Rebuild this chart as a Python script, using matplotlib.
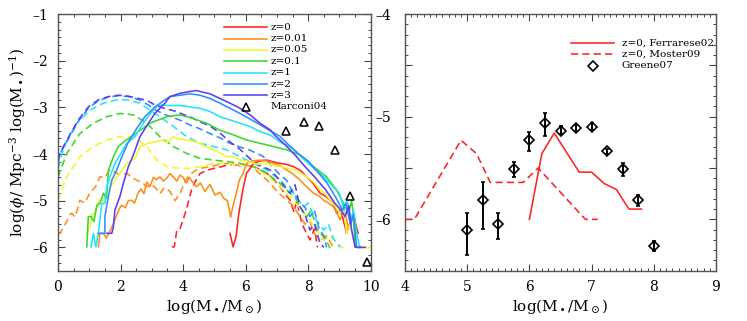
import matplotlib
matplotlib.use("Agg")
import matplotlib.pyplot as plt
from matplotlib.ticker import MultipleLocator, FuncFormatter

plt.rcParams['font.family'] = ['DejaVu Serif']
plt.rcParams['mathtext.fontset'] = 'dejavuserif'

# ---------------- data: left panel (solid = one model, dashed = other) -------------
labels = ["z=0", "z=0.01", "z=0.05", "z=0.1", "z=1", "z=2", "z=3"]
colors = ["#ff2222", "#ff8c1a", "#f5f52a", "#3ad928", "#1fe3ff", "#2f8cff", "#5a3ff0"]

z0_sol_x = [5.5, 5.6, 5.7, 5.77, 5.85, 5.93, 6.03, 6.15, 6.25, 6.45, 6.67, 6.9, 7.1, 7.3, 7.53, 7.75, 7.95, 8.15, 8.38, 8.55, 8.7, 8.8, 8.91, 9.0, 9.1, 9.23, 9.35, 9.45, 9.52, 9.6]
z0_sol_y = [-5.70, -5.99, -5.75, -5.34, -5.0, -4.7, -4.41, -4.3, -4.2, -4.15, -4.13, -4.17, -4.2, -4.22, -4.27, -4.35, -4.49, -4.62, -4.84, -4.9, -4.99, -5.05, -5.27, -5.2, -5.35, -5.7, -5.45, -5.27, -5.5, -5.7]

z001_sol_x = [1.29, 1.34, 1.45, 1.55, 1.66, 1.77, 1.88, 1.98, 2.04, 2.15, 2.25, 2.36, 2.45, 2.55, 2.65, 2.75, 2.84, 2.94, 3.05, 3.15, 3.26, 3.37, 3.47, 3.58, 3.69, 3.8, 3.9, 4.0, 4.1, 4.2, 4.3, 4.43, 4.55, 4.7, 4.86, 5.02, 5.18, 5.3, 5.42, 5.52, 5.6, 5.7, 5.8, 5.9, 6.03, 6.2, 6.46, 6.7, 6.89, 7.1, 7.31, 7.5, 7.74, 7.95, 8.17, 8.35, 8.49, 8.65, 8.81, 8.95, 9.02, 9.15, 9.3, 9.45, 9.55]
z001_sol_y = [-5.99, -5.7, -5.7, -5.8, -5.65, -5.5, -5.3, -5.15, -5.1, -5.15, -5.0, -4.99, -5.05, -4.85, -4.75, -4.85, -4.6, -4.7, -4.5, -4.55, -4.49, -4.58, -4.52, -4.42, -4.49, -4.58, -4.45, -4.5, -4.62, -4.5, -4.6, -4.7, -4.62, -4.8, -4.65, -4.88, -4.82, -4.95, -5.0, -5.35, -5.1, -4.85, -4.55, -4.45, -4.2, -4.15, -4.13, -4.15, -4.2, -4.25, -4.34, -4.42, -4.56, -4.7, -4.84, -4.9, -4.99, -5.05, -5.13, -5.3, -5.41, -5.2, -5.6, -5.34, -5.7]

z005_sol_x = [0.92, 1.02, 1.1, 1.2, 1.3, 1.45, 1.61, 1.82, 2.04, 2.2, 2.46, 2.62, 2.89, 3.1, 3.31, 3.5, 3.69, 3.9, 4.12, 4.3, 4.54, 4.75, 4.97, 5.2, 5.39, 5.6, 5.82, 6.03, 6.25, 6.46, 6.67, 6.9, 7.1, 7.3, 7.53, 7.75, 7.95, 8.17, 8.38, 8.55, 8.7, 8.85, 9.02, 9.12, 9.23, 9.35, 9.5, 10.0]
z005_sol_y = [-5.70, -5.56, -5.3, -5.25, -5.0, -5.0, -4.77, -4.56, -4.35, -4.2, -4.1, -3.84, -3.77, -3.74, -3.7, -3.75, -3.63, -3.68, -3.7, -3.72, -3.77, -3.85, -3.91, -3.98, -4.06, -4.05, -4.13, -4.15, -4.2, -4.22, -4.2, -4.25, -4.27, -4.3, -4.34, -4.4, -4.49, -4.6, -4.77, -4.85, -4.99, -5.1, -5.27, -5.1, -5.7, -5.5, -6.0, -6.0]

z01_sol_x = [0.92, 0.97, 1.06, 1.15, 1.24, 1.34, 1.45, 1.55, 1.61, 1.77, 1.93, 2.14, 2.41, 2.94, 3.48, 3.9, 4.33, 4.75, 5.18, 5.61, 6.03, 6.46, 6.89, 7.31, 7.74, 8.17, 8.59, 8.91, 9.13, 9.29, 9.39, 9.45, 9.5, 9.6]
z01_sol_y = [-5.99, -5.34, -5.34, -5.45, -5.10, -5.06, -4.84, -4.95, -4.35, -4.06, -3.84, -3.72, -3.6, -3.34, -3.2, -3.16, -3.24, -3.34, -3.49, -3.59, -3.7, -3.77, -3.84, -3.91, -4.02, -4.27, -4.49, -4.77, -5.06, -5.27, -5.0, -5.34, -5.99, -6.0]

z1_sol_x = [1.055, 1.13, 1.21, 1.29, 1.40, 1.50, 1.56, 1.66, 1.82, 1.98, 2.20, 2.46, 2.73, 3.0, 3.21, 3.58, 3.9, 4.22, 4.54, 4.86, 5.18, 5.5, 5.82, 6.14, 6.46, 6.78, 7.1, 7.5, 8.0, 8.5, 8.8, 9.0, 9.15, 9.25, 9.35, 9.45, 9.55, 9.65]
z1_sol_y = [-5.99, -5.70, -5.99, -5.70, -5.06, -5.06, -4.70, -4.49, -4.20, -4.02, -3.77, -3.63, -3.34, -3.09, -2.95, -2.96, -2.96, -2.99, -3.02, -3.09, -3.2, -3.27, -3.34, -3.41, -3.52, -3.59, -3.74, -3.88, -4.2, -4.49, -4.7, -4.84, -5.2, -5.0, -5.45, -5.2, -5.7, -6.0]

z2_sol_x = [1.29, 1.5, 1.5, 1.61, 1.72, 1.88, 2.04, 2.25, 2.52, 2.78, 3.1, 3.42, 3.58, 3.9, 4.22, 4.54, 4.86, 5.18, 5.5, 5.82, 6.14, 6.46, 6.78, 7.1, 7.4, 7.7, 8.0, 8.3, 8.6, 8.9, 9.1, 9.2, 9.35, 9.45, 9.55, 9.7]
z2_sol_y = [-5.70, -5.70, -5.34, -4.91, -4.56, -4.34, -4.06, -3.74, -3.45, -3.2, -2.99, -2.84, -2.77, -2.74, -2.71, -2.74, -2.81, -2.91, -3.02, -3.13, -3.25, -3.37, -3.5, -3.62, -3.82, -4.0, -4.15, -4.38, -4.62, -4.95, -5.2, -5.05, -5.5, -5.3, -6.0, -6.0]

z3_sol_x = [1.56, 1.72, 1.77, 1.82, 1.98, 2.09, 2.25, 2.41, 2.62, 2.89, 3.1, 3.42, 3.58, 3.9, 4.22, 4.43, 4.54, 4.86, 5.18, 5.5, 5.82, 6.14, 6.46, 6.78, 6.94, 7.26, 7.58, 7.9, 8.22, 8.54, 8.86, 9.05, 9.18, 9.3, 9.39, 9.5, 9.6, 9.82]
z3_sol_y = [-5.70, -5.70, -5.56, -5.2, -4.91, -4.63, -4.27, -4.02, -3.63, -3.34, -3.13, -2.91, -2.77, -2.70, -2.66, -2.64, -2.66, -2.71, -2.81, -2.91, -3.02, -3.16, -3.34, -3.48, -3.6, -3.8, -4.02, -4.27, -4.5, -4.75, -5.06, -5.2, -5.34, -5.1, -5.63, -5.99, -6.0, -6.0]

z0_das_x = [3.64, 3.72, 3.8, 3.9, 4.0, 4.1, 4.27, 4.38, 4.54, 4.75, 4.97, 5.18, 5.39, 5.6, 5.82, 6.03, 6.25, 6.46, 6.67, 6.9, 7.1, 7.25, 7.42, 7.55, 7.63, 7.8, 7.95, 8.06, 8.2, 8.3]
z0_das_y = [-5.99, -5.99, -5.63, -5.6, -5.41, -5.2, -4.77, -4.6, -4.42, -4.35, -4.31, -4.28, -4.24, -4.22, -4.25, -4.24, -4.27, -4.33, -4.41, -4.55, -4.7, -4.85, -4.99, -5.25, -5.0, -5.5, -5.7, -5.84, -5.6, -6.0]

z001_das_x = [0.0, 0.06, 0.17, 0.28, 0.38, 0.44, 0.55, 0.7, 0.85, 1.02, 1.2, 1.34, 1.5, 1.66, 1.85, 2.0, 2.2, 2.35, 2.52, 2.7, 2.84, 3.0, 3.15, 3.26, 3.4, 3.58, 3.74, 3.9, 4.05, 4.2, 4.4, 4.6, 4.8, 5.0, 5.2, 5.4, 5.6, 5.8, 6.0, 6.25, 6.5, 6.75, 7.0, 7.25, 7.5, 7.7, 7.9, 8.05, 8.2, 8.4, 8.6, 8.8]
z001_das_y = [-5.7, -5.7, -5.56, -5.45, -5.3, -5.27, -5.35, -4.99, -5.05, -4.84, -4.7, -4.49, -4.5, -4.34, -4.4, -4.45, -4.41, -4.5, -4.56, -4.62, -4.7, -4.65, -4.75, -4.85, -4.72, -4.8, -5.0, -4.85, -4.6, -4.45, -4.35, -4.3, -4.28, -4.25, -4.22, -4.2, -4.22, -4.25, -4.22, -4.3, -4.45, -4.6, -4.8, -4.95, -5.1, -5.3, -5.5, -5.45, -5.7, -5.85, -5.75, -6.0]

z005_das_x = [0.0, 0.1, 0.28, 0.7, 1.13, 1.56, 1.98, 2.41, 2.84, 3.16, 3.48, 3.8, 4.12, 4.54, 4.97, 5.39, 5.82, 6.25, 6.67, 7.1, 7.53, 7.85, 8.0, 8.17, 8.35, 8.49, 8.7, 8.9, 9.13]
z005_das_y = [-4.99, -4.8, -4.49, -4.06, -3.84, -3.7, -3.63, -3.63, -3.84, -4.13, -4.27, -4.3, -4.31, -4.27, -4.2, -4.2, -4.24, -4.27, -4.45, -4.7, -4.99, -5.27, -5.35, -5.56, -5.7, -5.84, -5.75, -5.9, -6.02]

z01_das_x = [0.0, 0.28, 0.7, 1.13, 1.56, 1.98, 2.41, 2.84, 3.26, 3.69, 4.12, 4.54, 4.97, 5.39, 5.82, 6.25, 6.67, 7.1, 7.42, 7.6, 7.74, 7.95, 8.1, 8.25, 8.38, 8.55, 8.7]
z01_das_y = [-4.49, -3.99, -3.56, -3.34, -3.2, -3.13, -3.16, -3.34, -3.63, -3.84, -3.99, -4.09, -4.13, -4.16, -4.2, -4.27, -4.41, -4.63, -4.84, -4.95, -5.13, -5.35, -5.2, -5.55, -5.7, -5.8, -6.02]

z1_das_x = [0.0, 0.08, 0.28, 0.6, 1.02, 1.45, 1.88, 2.2, 2.62, 2.94, 3.26, 3.69, 4.12, 4.54, 4.97, 5.39, 5.82, 6.25, 6.67, 7.1, 7.3, 7.53, 7.7, 7.85, 8.0, 8.2, 8.35, 8.49, 8.65, 8.8, 9.02]
z1_das_y = [-4.31, -4.1, -3.7, -3.34, -3.06, -2.91, -2.84, -2.84, -2.91, -3.06, -3.2, -3.41, -3.63, -3.77, -3.84, -3.91, -4.06, -4.2, -4.34, -4.56, -4.7, -4.84, -5.0, -5.13, -5.05, -5.35, -5.5, -5.63, -5.5, -5.8, -6.0]

z2_das_x = [0.0, 0.06, 0.17, 0.38, 0.65, 0.97, 1.29, 1.61, 1.93, 2.25, 2.57, 2.89, 3.1, 3.4, 3.69, 4.0, 4.22, 4.5, 4.86, 5.2, 5.5, 5.82, 6.14, 6.56, 6.9, 7.1, 7.31, 7.5, 7.7, 7.9, 8.06, 8.2, 8.35, 8.5, 8.59]
z2_das_y = [-4.2, -4.0, -3.87, -3.62, -3.3, -3.02, -2.86, -2.78, -2.75, -2.77, -2.83, -2.95, -3.05, -3.15, -3.22, -3.3, -3.38, -3.45, -3.56, -3.66, -3.77, -3.85, -3.92, -4.05, -4.3, -4.45, -4.56, -4.8, -5.0, -5.15, -5.34, -5.2, -5.6, -5.75, -6.0]

z3_das_x = [0.0, 0.06, 0.17, 0.38, 0.65, 0.97, 1.29, 1.61, 1.93, 2.25, 2.57, 2.84, 3.1, 3.4, 3.74, 4.0, 4.22, 4.5, 4.86, 5.18, 5.5, 5.82, 6.14, 6.46, 6.78, 7.1, 7.3, 7.42, 7.58, 7.74, 7.9, 8.06, 8.2, 8.38, 8.5]
z3_das_y = [-4.13, -4.0, -3.84, -3.59, -3.27, -2.99, -2.84, -2.77, -2.74, -2.76, -2.81, -2.85, -2.95, -3.02, -3.08, -3.15, -3.2, -3.3, -3.4, -3.55, -3.74, -3.9, -4.1, -4.25, -4.34, -4.56, -4.75, -4.84, -4.66, -5.13, -5.3, -5.63, -5.5, -5.91, -6.0]

marconi_x = [7.29, 7.87, 8.36, 8.86, 9.34, 9.87]
marconi_y = [-3.51, -3.31, -3.40, -3.91, -4.91, -6.32]

# ---------------- data: right panel ----------------
ferrarese_x = [6.0, 6.2, 6.4, 6.8, 7.0, 7.2, 7.4, 7.6, 7.8]
ferrarese_y = [-6.0, -5.36, -5.16, -5.54, -5.54, -5.65, -5.71, -5.9, -5.9]
moster_x = [4.0, 4.15, 4.9, 5.15, 5.37, 5.9, 6.14, 6.9, 7.1]
moster_y = [-6.0, -6.0, -5.23, -5.36, -5.64, -5.64, -5.5, -6.0, -6.0]
greene_x = [5.0, 5.25, 5.5, 5.75, 6.0, 6.25, 6.5, 6.75, 7.0, 7.25, 7.5, 7.75, 8.0]
greene_y = [-6.10, -5.81, -6.05, -5.51, -5.23, -5.06, -5.14, -5.11, -5.10, -5.33, -5.51, -5.81, -6.26]
greene_hi = [-5.94, -5.64, -5.94, -5.44, -5.15, -4.96, -5.09, -5.08, -5.06, -5.31, -5.45, -5.76, -6.21]
greene_lo = [-6.35, -6.09, -6.19, -5.59, -5.33, -5.19, -5.17, -5.14, -5.13, -5.36, -5.58, -5.87, -6.31]

solid_sets = [(z0_sol_x, z0_sol_y), (z001_sol_x, z001_sol_y), (z005_sol_x, z005_sol_y),
              (z01_sol_x, z01_sol_y), (z1_sol_x, z1_sol_y), (z2_sol_x, z2_sol_y), (z3_sol_x, z3_sol_y)]
dash_sets = [(z0_das_x, z0_das_y), (z001_das_x, z001_das_y), (z005_das_x, z005_das_y),
             (z01_das_x, z01_das_y), (z1_das_x, z1_das_y), (z2_das_x, z2_das_y), (z3_das_x, z3_das_y)]

fig = plt.figure(figsize=(7.47, 3.21), dpi=100)
W, H = 747, 321
axL = fig.add_axes([58 / W, 1 - 270.7 / H, (370.7 - 58) / W, (270.7 - 14) / H])
axR = fig.add_axes([405 / W, 1 - 270.7 / H, (716 - 405) / W, (270.7 - 14) / H])

LW = 1.15
DASH = (4.5, 2.6)
for (xs, ys), c in zip(dash_sets, colors):
    axL.plot(xs, ys, color=c, lw=LW, dashes=DASH)
for (xs, ys), c in zip(solid_sets, colors):
    axL.plot(xs, ys, color=c, lw=LW)
axL.plot(marconi_x, marconi_y, ls='none', marker='^', ms=6, mfc='none', mec='black', mew=1.1)

tri_fmt = FuncFormatter(lambda v, p: ('\u2013%g' % abs(v)) if v < 0 else '%g' % v)

def style(ax):
    ax.tick_params(which='both', direction='in', top=True, right=True, colors='#444444',
                   labelcolor='black', labelsize=10, pad=7)
    ax.tick_params(which='major', length=5, width=0.8)
    ax.tick_params(which='minor', length=2.5, width=0.7)
    for s in ax.spines.values():
        s.set_color('#555555')
        s.set_linewidth(1.0)

axL.set_xlim(0, 10)
axL.set_ylim(-6.5, -1)
axL.xaxis.set_major_locator(MultipleLocator(2))
axL.xaxis.set_minor_locator(MultipleLocator(0.5))
axL.yaxis.set_major_locator(MultipleLocator(1))
axL.yaxis.set_minor_locator(MultipleLocator(1 / 6))
axL.yaxis.set_major_formatter(tri_fmt)
style(axL)
axL.set_xlabel(r'log(M$_\bullet$/M$_\odot$)', fontsize=11, labelpad=2)
axL.set_ylabel(r'log($\phi$/ Mpc$^{-3}$ log(M$_\bullet$)$^{-1}$)', fontsize=11, labelpad=3)

# left legend
lx0, lx1, ltx = (224 - 58) / 312.7, (267 - 58) / 312.7, (271 - 58) / 312.7
rows = [27.3 + 11.35 * i for i in range(8)]
for lab, c, Y in zip(labels, colors, rows):
    yy = 1 - (Y - 14) / 256.7
    axL.plot([lx0, lx1], [yy, yy], color=c, lw=LW, transform=axL.transAxes)
    axL.text(ltx, yy, lab, fontsize=7.5, va='center', ha='left', transform=axL.transAxes)
yy = 1 - (rows[7] - 14) / 256.7
axL.plot([(lx0 + lx1) / 2], [yy], marker='^', ms=6, mfc='none', mec='black', mew=1.1,
         transform=axL.transAxes)
axL.text(ltx, yy, 'Marconi04', fontsize=7.5, va='center', ha='left', transform=axL.transAxes)

# right panel
axR.plot(moster_x, moster_y, color='#ff2222', lw=LW, dashes=DASH)
axR.plot(ferrarese_x, ferrarese_y, color='#ff2222', lw=LW)
yerr = [[y - lo for y, lo in zip(greene_y, greene_lo)], [hi - y for y, hi in zip(greene_y, greene_hi)]]
axR.errorbar(greene_x, greene_y, yerr=yerr, fmt='D', ms=5.5, mfc='none', mec='black', mew=1.2,
             ecolor='black', elinewidth=1.4, capsize=1.5, capthick=1.0)
axR.set_xlim(4, 9)
axR.set_ylim(-6.5, -4)
axR.xaxis.set_major_locator(MultipleLocator(1))
axR.xaxis.set_minor_locator(MultipleLocator(0.1))
axR.yaxis.set_major_locator(MultipleLocator(0.5))
axR.yaxis.set_minor_locator(MultipleLocator(0.1))
axR.yaxis.set_major_formatter(FuncFormatter(lambda v, p: ('\u2013%d' % abs(round(v))) if abs(v - round(v)) < 1e-6 else ''))
style(axR)
axR.tick_params(axis='y', pad=10)
axR.set_xlabel(r'log(M$_\bullet$/M$_\odot$)', fontsize=11, labelpad=2)

rx0, rx1, rtx = (571 - 405) / 311, (614 - 405) / 311, (621.7 - 405) / 311
rrows = [43.3, 53.7, 65.7]
y0 = 1 - (rrows[0] - 14) / 256.7
y1 = 1 - (rrows[1] - 14) / 256.7
y2 = 1 - (rrows[2] - 14) / 256.7
axR.plot([rx0, rx1], [y0, y0], color='#ff2222', lw=LW, transform=axR.transAxes)
axR.plot([rx0, rx1], [y1, y1], color='#ff2222', lw=LW, dashes=DASH, transform=axR.transAxes)
axR.plot([(rx0 + rx1) / 2], [y2], marker='D', ms=5.5, mfc='none', mec='black', mew=1.2,
         transform=axR.transAxes)
axR.text(rtx, y0, 'z=0, Ferrarese02', fontsize=7.5, va='center', ha='left', transform=axR.transAxes)
axR.text(rtx, y1, 'z=0, Moster09', fontsize=7.5, va='center', ha='left', transform=axR.transAxes)
axR.text(rtx, y2, 'Greene07', fontsize=7.5, va='center', ha='left', transform=axR.transAxes)

fig.savefig('out.png', dpi=100)
